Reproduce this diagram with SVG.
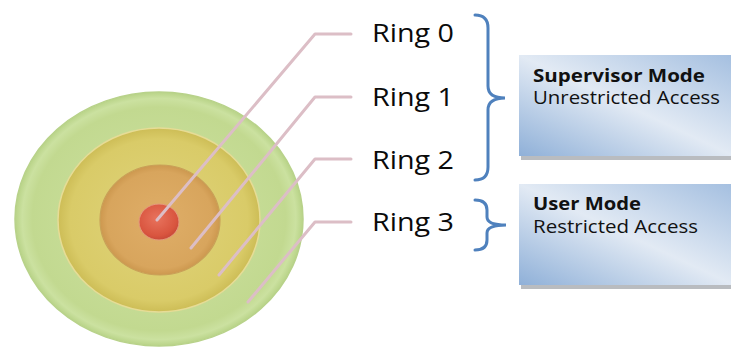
<svg xmlns="http://www.w3.org/2000/svg" width="731" height="347" viewBox="0 0 731 347">
  <defs>
    <radialGradient id="gGreen" cx="0.5" cy="0.5" r="0.5">
      <stop offset="0" stop-color="#cfe3a4"/>
      <stop offset="0.88" stop-color="#c2d990"/>
      <stop offset="0.95" stop-color="#cbe1a0"/>
      <stop offset="1" stop-color="#b8d387"/>
    </radialGradient>
    <radialGradient id="gYellow" cx="0.5" cy="0.5" r="0.5">
      <stop offset="0" stop-color="#e0d47c"/>
      <stop offset="0.88" stop-color="#d9cb68"/>
      <stop offset="1" stop-color="#cdbd56"/>
    </radialGradient>
    <radialGradient id="gOrange" cx="0.5" cy="0.5" r="0.5">
      <stop offset="0" stop-color="#dfae68"/>
      <stop offset="0.88" stop-color="#d8a55d"/>
      <stop offset="1" stop-color="#cd984f"/>
    </radialGradient>
    <radialGradient id="gRed" cx="0.45" cy="0.4" r="0.6">
      <stop offset="0" stop-color="#e8735d"/>
      <stop offset="0.8" stop-color="#d9553f"/>
      <stop offset="1" stop-color="#c94a38"/>
    </radialGradient>
    <linearGradient id="gBox" x1="0" y1="1" x2="1" y2="0">
      <stop offset="0" stop-color="#8fb0d8"/>
      <stop offset="0.5" stop-color="#e2eaf4"/>
      <stop offset="1" stop-color="#a4bfe0"/>
    </linearGradient>
    <style>
      .lead { fill: none; stroke: #dcbec6; stroke-width: 3; stroke-linecap: round; stroke-linejoin: round; }
      .lbl { font-family: "Open Sans", "Liberation Sans", sans-serif; font-size: 25px; fill: #0a0a0a; }
      .brace { fill: none; stroke: #4f81bd; stroke-width: 3; stroke-linecap: round; }
      .box { fill: url(#gBox); }
      .shadow { fill: #8a8f96; opacity: 0.6; }
      .bt { font-family: "Open Sans", "Liberation Sans", sans-serif; font-size: 18px; fill: #111; }
      .bb { font-weight: bold; }
    </style>
  </defs>

  <g id="ring3">
    <ellipse cx="159" cy="219" rx="144" ry="127" fill="url(#gGreen)" stroke="#b8d28a" stroke-width="1.5"/>
  </g>
  <g id="ring2">
    <ellipse cx="159" cy="220" rx="101" ry="92" fill="url(#gYellow)" stroke="#e6dc96" stroke-width="1.5"/>
  </g>
  <g id="ring1">
    <ellipse cx="160" cy="220" rx="60" ry="55" fill="url(#gOrange)" stroke="#c9a058" stroke-width="1.2"/>
  </g>
  <g id="ring0">
    <ellipse cx="159" cy="222" rx="20" ry="18" fill="url(#gRed)" stroke="#e49a7e" stroke-width="1"/>
  </g>

  <g id="connectors">
    <polyline class="lead" points="157,220 315,34 351,34"/>
    <polyline class="lead" points="191,248 315,97 351,97"/>
    <polyline class="lead" points="219,275 315,159 351,159"/>
    <polyline class="lead" points="248,302 315,222 351,222"/>
  </g>

  <g id="label-ring0"><text class="lbl" x="372" y="42" textLength="82" lengthAdjust="spacingAndGlyphs">Ring 0</text></g>
  <g id="label-ring1"><text class="lbl" x="372" y="106" textLength="82" lengthAdjust="spacingAndGlyphs">Ring 1</text></g>
  <g id="label-ring2"><text class="lbl" x="372" y="169" textLength="82" lengthAdjust="spacingAndGlyphs">Ring 2</text></g>
  <g id="label-ring3"><text class="lbl" x="372" y="231" textLength="82" lengthAdjust="spacingAndGlyphs">Ring 3</text></g>

  <g id="brace-supervisor">
    <path class="brace" d="M475,15 Q488,15 488,28 L488,86 Q488,98 505,98 Q488,98 488,110 L488,167 Q488,180 475,180"/>
  </g>
  <g id="brace-user">
    <path class="brace" d="M475,200 Q487,200 487,210 L487,217 Q487,225 506,225 Q487,225 487,233 L487,240 Q487,250 475,250"/>
  </g>

  <g id="supervisor-mode">
    <rect class="shadow" x="521" y="57" width="215" height="103"/>
    <rect class="box" x="519" y="55" width="215" height="101"/>
    <text class="bt bb" x="533" y="82" textLength="172" lengthAdjust="spacingAndGlyphs">Supervisor Mode</text>
    <text class="bt" x="533" y="104" textLength="187" lengthAdjust="spacingAndGlyphs">Unrestricted Access</text>
  </g>
  <g id="user-mode">
    <rect class="shadow" x="521" y="186" width="215" height="103"/>
    <rect class="box" x="519" y="184" width="215" height="101"/>
    <text class="bt bb" x="533" y="210" textLength="108" lengthAdjust="spacingAndGlyphs">User Mode</text>
    <text class="bt" x="533" y="233" textLength="165" lengthAdjust="spacingAndGlyphs">Restricted Access</text>
  </g>
</svg>
